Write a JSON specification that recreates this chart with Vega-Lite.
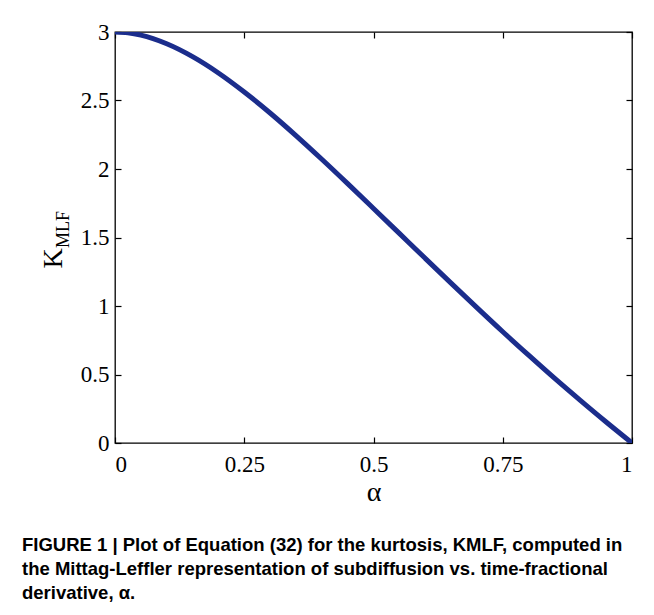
{
  "$schema": "https://vega.github.io/schema/vega-lite/v6.json",
  "width": 517,
  "height": 411,
  "autosize": {"type": "none"},
  "padding": {"left": 115, "top": 32, "right": 22, "bottom": 172},
  "background": "white",
  "config": {
    "view": {"stroke": "#000000", "strokeWidth": 1.3, "strokeOpacity": 1},
    "axis": {
      "grid": false,
      "domain": false,
      "tickColor": "black",
      "tickSize": -6,
      "tickWidth": 1.2,
      "labelFont": "Liberation Serif",
      "labelFontSize": 23,
      "labelColor": "black",
      "titleFont": "Liberation Serif",
      "titleColor": "black",
      "titleFontWeight": "normal"
    }
  },
  "title": {
    "text": [
      "FIGURE 1 | Plot of Equation (32) for the kurtosis, KMLF, computed in",
      "the Mittag-Leffler representation of subdiffusion vs. time-fractional",
      "derivative, α."
    ],
    "orient": "bottom",
    "anchor": "start",
    "frame": "group",
    "font": "Liberation Sans",
    "fontSize": 18.5,
    "fontWeight": "bold",
    "color": "black",
    "lineHeight": 24,
    "dx": -93,
    "offset": 30
  },
  "data": {
    "values": [
      {"alpha": 0, "K": 3},
      {"alpha": 0.025, "K": 2.994},
      {"alpha": 0.05, "K": 2.977},
      {"alpha": 0.1, "K": 2.914},
      {"alpha": 0.15, "K": 2.82},
      {"alpha": 0.2, "K": 2.701},
      {"alpha": 0.25, "K": 2.562},
      {"alpha": 0.3, "K": 2.409},
      {"alpha": 0.35, "K": 2.244},
      {"alpha": 0.4, "K": 2.071},
      {"alpha": 0.45, "K": 1.893},
      {"alpha": 0.5, "K": 1.712},
      {"alpha": 0.55, "K": 1.53},
      {"alpha": 0.6, "K": 1.348},
      {"alpha": 0.65, "K": 1.167},
      {"alpha": 0.7, "K": 0.988},
      {"alpha": 0.75, "K": 0.812},
      {"alpha": 0.8, "K": 0.641},
      {"alpha": 0.85, "K": 0.473},
      {"alpha": 0.9, "K": 0.311},
      {"alpha": 0.95, "K": 0.153},
      {"alpha": 1, "K": 0}
    ]
  },
  "layer": [
    {
      "mark": {"type": "line", "color": "#1b2d8c", "strokeWidth": 5, "interpolate": "monotone", "clip": true},
      "encoding": {
        "x": {
          "field": "alpha", "type": "quantitative",
          "scale": {"domain": [0, 1], "nice": false},
          "axis": {"values": [0, 0.25, 0.5, 0.75, 1], "labelExpr": "format(datum.value, '.2~f')", "title": "α", "titleFontSize": 28, "labelPadding": 16, "titlePadding": 2}
        },
        "y": {
          "field": "K", "type": "quantitative",
          "scale": {"domain": [0, 3], "nice": false},
          "axis": {"values": [0, 0.5, 1, 1.5, 2, 2.5, 3], "labelExpr": "format(datum.value, '.1~f')", "title": "K", "titleFontSize": 28, "labelPadding": 12, "titleAngle": -90, "titleAlign": "center", "titleBaseline": "alphabetic", "titleX": -54, "titleY": 226}
        }
      }
    },
    {
      "mark": {"type": "line", "opacity": 0},
      "encoding": {
        "x": {"field": "alpha", "type": "quantitative", "axis": {"orient": "top", "values": [0, 0.25, 0.5, 0.75, 1], "labels": false, "title": null}},
        "y": {"field": "K", "type": "quantitative", "axis": {"orient": "right", "values": [0, 0.5, 1, 1.5, 2, 2.5, 3], "labels": false, "title": null}}
      }
    },
    {
      "mark": {"type": "line", "opacity": 0},
      "encoding": {
        "x": {"field": "alpha", "type": "quantitative", "axis": null},
        "y": {"field": "K", "type": "quantitative", "axis": {"orient": "left", "labels": false, "ticks": false, "title": "MLF", "titleFontSize": 18, "titleAngle": -90, "titleAlign": "center", "titleBaseline": "alphabetic", "titleX": -47, "titleY": 197}}
      }
    }
  ],
  "resolve": {"axis": {"x": "independent", "y": "independent"}}
}
